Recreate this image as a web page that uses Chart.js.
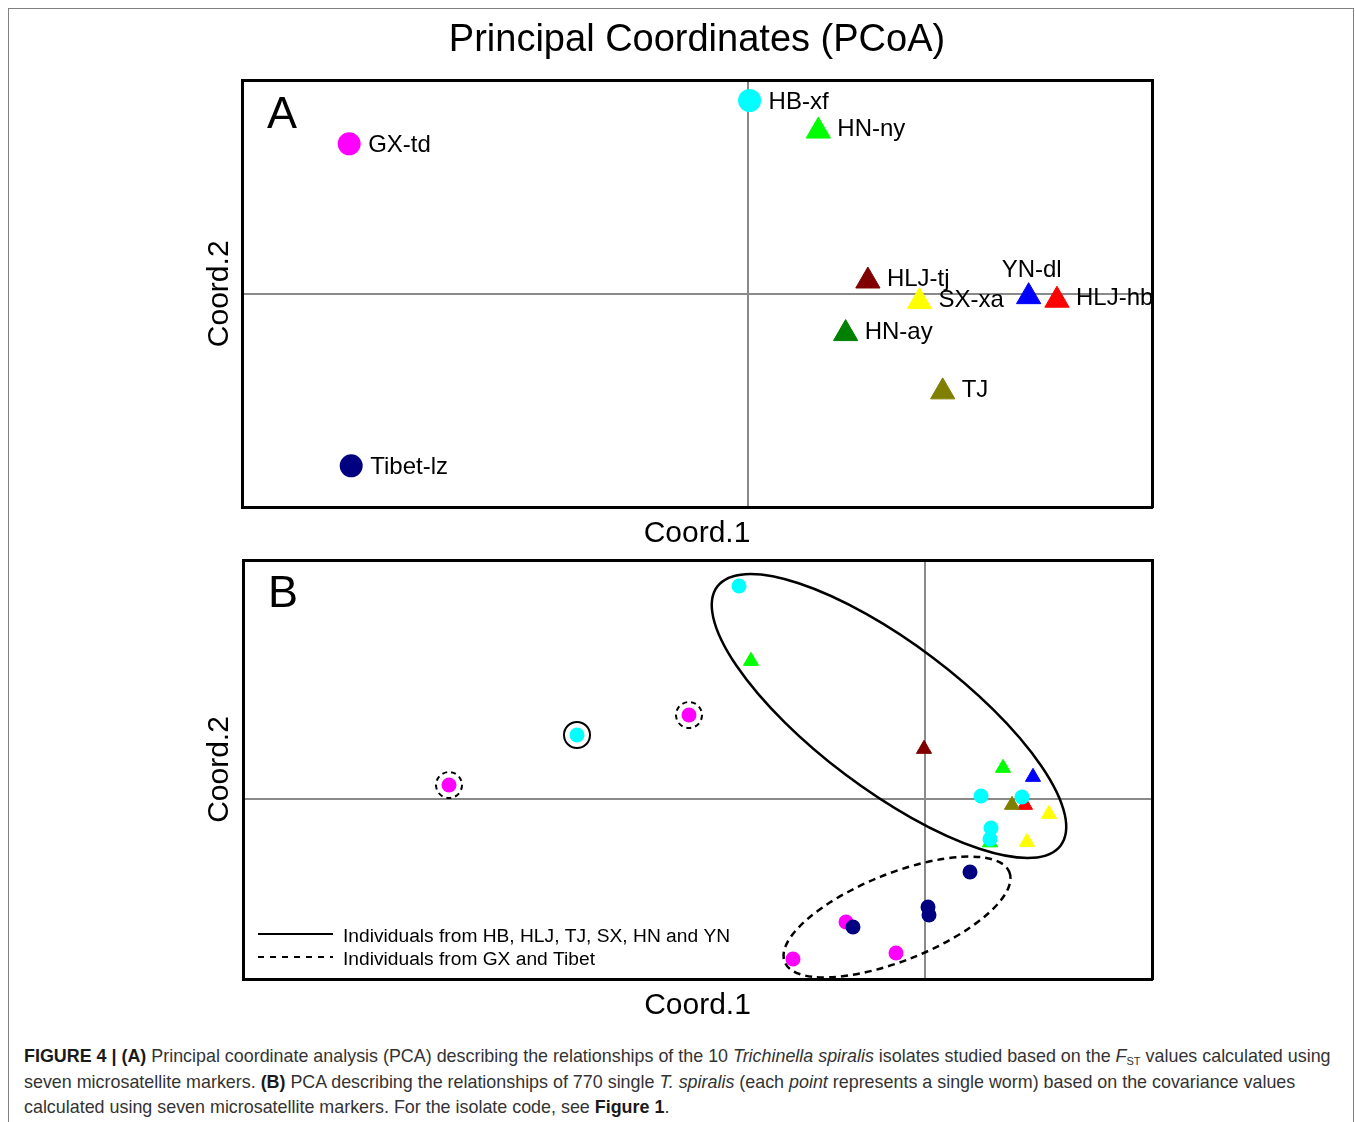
<!DOCTYPE html>
<html>
<head>
<meta charset="utf-8">
<script src="https://cdn.jsdelivr.net/npm/chart.js@4.4.1/dist/chart.umd.min.js"></script>
<style>
  html, body { margin: 0; padding: 0; background: #fff; }
  body { width: 1355px; height: 1122px; position: relative; overflow: hidden; font-family: "Liberation Sans", Arial, sans-serif; }
  #frame { position: absolute; left: 8px; top: 8px; width: 1344px; height: 1200px; border: 1px solid #808080; }
  #chartA { position: absolute; left: 0; top: 0; }
  #chartB { position: absolute; left: 0; top: 540px; }
  #caption { position: absolute; left: 24px; top: 1044px; font-size: 17.9px; line-height: 25.5px; color: #333; white-space: nowrap; }
  #caption b { color: #1a1a1a; }
  #caption sub { font-size: 11px; line-height: 0; vertical-align: -3px; }
</style>
</head>
<body>
<div id="frame"></div>
<canvas id="chartA" width="1355" height="560"></canvas>
<canvas id="chartB" width="1355" height="490"></canvas>
<div id="caption"><b>FIGURE 4 | (A)</b> Principal coordinate analysis (PCA) describing the relationships of the 10 <i>Trichinella spiralis</i> isolates studied based on the <i>F</i><sub>ST</sub> values calculated using<br>seven microsatellite markers. <b>(B)</b> PCA describing the relationships of 770 single <i>T. spiralis</i> (each <i>point</i> represents a single worm) based on the covariance values<br>calculated using seven microsatellite markers. For the isolate code, see <b>Figure 1</b>.</div>
<script>
const FONT = "'Liberation Sans', Arial, sans-serif";
Chart.defaults.font.family = FONT;
Chart.defaults.color = "#000";

// A: isolates (Fst based PCoA)
const isolateNames = ["GX-td", "HB-xf", "Tibet-lz", "HN-ny", "HLJ-tj", "SX-xa", "YN-dl", "HLJ-hb", "HN-ay", "TJ"];
const isolateCoord1 = [-0.394, 0.002, -0.392, 0.070, 0.119, 0.170, 0.278, 0.306, 0.097, 0.193];
const isolateCoord2 = [0.211, 0.272, -0.242, 0.229, 0.018, -0.011, -0.004, -0.009, -0.056, -0.138];

// B: single worms (covariance based PCA)
const wormIsolate = ["HLJ-hb", "TJ", "HLJ-tj", "HN-ny", "HN-ny", "HN-ny", "YN-dl", "SX-xa", "SX-xa",
    "GX-td", "GX-td", "GX-td", "GX-td", "GX-td",
    "Tibet-lz", "Tibet-lz", "Tibet-lz", "Tibet-lz",
    "HB-xf", "HB-xf", "HB-xf", "HB-xf", "HB-xf", "HB-xf"];
const wormCoord1 = [1.00, 0.87, -0.01, -1.74, 0.78, 0.65, 1.08, 1.24, 1.02,
    -4.76, -2.36, -0.79, -1.32, -0.29,
    -0.72, 0.45, 0.03, 0.04,
    -1.86, -3.48, 0.56, 0.97, 0.66, 0.65];
const wormCoord2 = [-0.06, -0.06, 0.50, 1.38, 0.31, -0.435, 0.22, -0.15, -0.43,
    0.14, 0.84, -1.23, -1.60, -1.54,
    -1.28, -0.73, -1.08, -1.16,
    2.13, 0.64, 0.03, 0.02, -0.29, -0.40];
const ringedSolid = [19];
const ringedDashed = [9, 10];

// groups circled in B
const groupNames = ["Individuals from HB, HLJ, TJ, SX, HN and YN", "Individuals from GX and Tibet"];
const groupCentre1 = [-0.36, -0.28];
const groupCentre2 = [0.83, -1.18];
const groupSemiMajor = [2.15, 1.21];
const groupSemiMinor = [0.73, 0.435];
const groupAngle = [-37, 21.8];

// styles
const isolateColor = {
    "GX-td": "#ff00ff", "HB-xf": "#00ffff", "Tibet-lz": "#000080", "HN-ny": "#00ff00",
    "HLJ-tj": "#800000", "SX-xa": "#ffff00", "YN-dl": "#0000ff", "HLJ-hb": "#ff0000",
    "HN-ay": "#008000", "TJ": "#808000"
};
const circleIsolates = ["GX-td", "HB-xf", "Tibet-lz"];
const labelAbove = ["YN-dl"];
const groupDash = [[], [7, 5]];

function shapeOf(name) {
    return circleIsolates.includes(name) ? "circle" : "triangle";
}

function zeroLine(c) {
    return Math.abs(c.tick.value) < 1e-9 ? "#8a8a8a" : "rgba(0,0,0,0)";
}

function pcoaScales(xMin, xMax, yMin, yMax, step, yPadBottom) {
    const frame = { display: true, color: "#000", width: 3 };
    const bare = { display: false };
    return {
        x: {
            type: "linear", min: xMin, max: xMax,
            ticks: { display: false, stepSize: step[0] },
            grid: { color: zeroLine, lineWidth: 2, drawTicks: false },
            border: frame,
            title: { display: true, text: "Coord.1", color: "#000", font: { size: 30 }, padding: { top: 9, bottom: 0 } },
        },
        y: {
            type: "linear", min: yMin, max: yMax,
            ticks: { display: false, stepSize: step[1] },
            grid: { color: zeroLine, lineWidth: 2, drawTicks: false },
            border: frame,
            title: { display: true, text: "Coord.2", color: "#000", font: { size: 30 }, padding: { top: 22, bottom: yPadBottom } },
        },
        x2: {
            type: "linear", position: "top", min: xMin, max: xMax,
            ticks: bare, grid: { display: false, drawTicks: false }, border: frame,
        },
        y2: {
            type: "linear", position: "right", min: yMin, max: yMax,
            ticks: bare, grid: { display: false, drawTicks: false }, border: frame,
        },
    };
}

const panelLetter = {
    id: "panelLetter",
    afterDraw(chart, args, opts) {
        const { ctx, chartArea } = chart;
        ctx.save();
        ctx.font = "45px " + FONT;
        ctx.fillStyle = "#000";
        ctx.textAlign = "left";
        ctx.textBaseline = "alphabetic";
        ctx.fillText(opts.text, chartArea.left + 25, chartArea.top + 47);
        ctx.restore();
    },
};

const isolateLabels = {
    id: "isolateLabels",
    afterDatasetsDraw(chart) {
        const { ctx } = chart;
        const meta = chart.getDatasetMeta(0);
        ctx.save();
        ctx.font = "24px " + FONT;
        ctx.fillStyle = "#000";
        ctx.textBaseline = "alphabetic";
        meta.data.forEach((pt, i) => {
            const name = isolateNames[i];
            const tri = shapeOf(name) === "triangle";
            const cy = tri ? pt.y - 3.5 : pt.y;
            if (labelAbove.includes(name)) {
                ctx.textAlign = "center";
                ctx.fillText(name, pt.x + 3, cy - 16);
            } else {
                ctx.textAlign = "left";
                ctx.fillText(name, pt.x + (tri ? 19 : 19), cy + 8.5);
            }
        });
        ctx.restore();
    },
};

// dashed rings around some worms
const ringDash = {
    id: "ringDash",
    beforeDatasetDraw(chart, args) {
        const dash = args.meta.controller.getDataset().ringDash;
        if (dash) {
            chart.ctx.save();
            chart.ctx.setLineDash(dash);
        }
    },
    afterDatasetDraw(chart, args) {
        if (args.meta.controller.getDataset().ringDash) chart.ctx.restore();
    },
};

const groupEllipses = {
    id: "groupEllipses",
    afterDatasetsDraw(chart) {
        const { ctx, chartArea, scales: { x, y } } = chart;
        ctx.save();
        ctx.strokeStyle = "#000";
        ctx.fillStyle = "#000";
        ctx.font = "19.2px " + FONT;
        ctx.textAlign = "left";
        ctx.textBaseline = "alphabetic";
        groupNames.forEach((name, i) => {
            const t = groupAngle[i] * Math.PI / 180;
            const cx = x.getPixelForValue(groupCentre1[i]);
            const cy = y.getPixelForValue(groupCentre2[i]);
            const ax = x.getPixelForValue(groupCentre1[i] + groupSemiMajor[i] * Math.cos(t)) - cx;
            const ay = y.getPixelForValue(groupCentre2[i] + groupSemiMajor[i] * Math.sin(t)) - cy;
            const bx = x.getPixelForValue(groupCentre1[i] - groupSemiMinor[i] * Math.sin(t)) - cx;
            const by = y.getPixelForValue(groupCentre2[i] + groupSemiMinor[i] * Math.cos(t)) - cy;
            ctx.setLineDash(groupDash[i]);
            ctx.lineWidth = 2.5;
            ctx.beginPath();
            ctx.ellipse(cx, cy, Math.hypot(ax, ay), Math.hypot(bx, by), Math.atan2(ay, ax), 0, 2 * Math.PI);
            ctx.stroke();

            // legend entry
            const ly = chartArea.bottom - 45 + i * 23;
            ctx.setLineDash(groupDash[i].length ? [6, 6] : []);
            ctx.lineWidth = 2;
            ctx.beginPath();
            ctx.moveTo(chartArea.left + 15, ly);
            ctx.lineTo(chartArea.left + 90, ly);
            ctx.stroke();
            ctx.fillText(name, chartArea.left + 100, ly + 8);
        });
        ctx.restore();
    },
};

const isolatePoints = isolateNames.map((n, i) => ({ x: isolateCoord1[i], y: isolateCoord2[i] }));
const wormPoints = wormIsolate.map((n, i) => ({ x: wormCoord1[i], y: wormCoord2[i] }));

const baseOptions = {
    responsive: false,
    animation: false,
    events: [],
};

new Chart(document.getElementById("chartA"), {
    type: "scatter",
    data: {
        datasets: [
            {
                data: isolatePoints,
                clip: false,
                pointStyle: isolateNames.map(shapeOf),
                pointRadius: isolateNames.map((n) => (shapeOf(n) === "circle" ? 11.5 : 14)),
                pointBorderWidth: isolateNames.map((n) => (shapeOf(n) === "circle" ? 0 : 1)),
                pointBackgroundColor: isolateNames.map((n) => isolateColor[n]),
                pointBorderColor: isolateNames.map((n) => isolateColor[n]),
            },
        ],
    },
    plugins: [isolateLabels, panelLetter],
    options: {
        ...baseOptions,
        layout: { padding: { left: 180, right: 203, top: 0, bottom: 8 } },
        scales: pcoaScales(-0.5, 0.4, -0.3, 0.3, [0.1, 0.1], 4),
        plugins: {
            legend: { display: false },
            tooltip: { enabled: false },
            title: {
                display: true,
                fullSize: false,
                text: "Principal Coordinates (PCoA)",
                color: "#000",
                font: { size: 38, weight: "normal" },
                padding: { top: 18, bottom: 17 },
            },
            panelLetter: { text: "A" },
        },
    },
});

new Chart(document.getElementById("chartB"), {
    type: "scatter",
    data: {
        datasets: [
            {
                data: wormPoints,
                clip: false,
                pointStyle: wormIsolate.map(shapeOf),
                pointRadius: wormIsolate.map((n) => (shapeOf(n) === "circle" ? 7.5 : 8.7)),
                pointBorderWidth: wormIsolate.map((n) => (shapeOf(n) === "circle" ? 0 : 1)),
                pointBackgroundColor: wormIsolate.map((n) => isolateColor[n]),
                pointBorderColor: wormIsolate.map((n) => isolateColor[n]),
            },
            {
                data: ringedSolid.map((i) => wormPoints[i]),
                clip: false,
                pointRadius: 13,
                pointBorderWidth: 2,
                pointBackgroundColor: "rgba(0,0,0,0)",
                pointBorderColor: "#000",
            },
            {
                data: ringedDashed.map((i) => wormPoints[i]),
                ringDash: [5, 4],
                clip: false,
                pointRadius: 13,
                pointBorderWidth: 2,
                pointBackgroundColor: "rgba(0,0,0,0)",
                pointBorderColor: "#000",
            },
        ],
    },
    plugins: [ringDash, groupEllipses, panelLetter],
    options: {
        ...baseOptions,
        layout: { padding: { left: 180, right: 203, top: 20, bottom: 6 } },
        scales: pcoaScales(-6.82, 2.27, -1.80, 2.39, [1, 1], 5),
        plugins: {
            legend: { display: false },
            tooltip: { enabled: false },
            panelLetter: { text: "B" },
        },
    },
});
</script>
</body>
</html>
